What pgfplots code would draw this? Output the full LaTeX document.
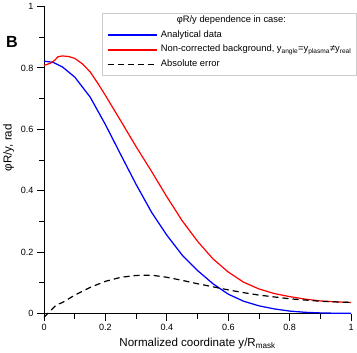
\documentclass[border=0pt]{standalone}
\usepackage{pgfplots}
\pgfplotsset{compat=1.18}
\usepackage{fontspec}
\setmainfont{Liberation Sans}
\begin{document}
\begin{tikzpicture}
\begin{axis}[
  width=305pt, height=305pt, scale only axis,
  xmin=0, xmax=1, ymin=0, ymax=1,
  clip=false,
  axis x line=bottom, axis y line=left,
  axis line style={-, line width=0.9pt},
  tick align=outside,
  xtick={0,0.2,0.4,0.6,0.8,1}, ytick={0,0.2,0.4,0.6,0.8,1},
  xticklabels={0,0.2,0.4,0.6,0.8,1}, yticklabels={0,0.2,0.4,0.6,0.8,1},
  minor x tick num=1, minor y tick num=1,
  major tick length=7pt, minor tick length=5pt,
  tick style={black, line width=0.9pt},
  ticklabel style={font=\fontsize{9}{10}\selectfont},
  /pgf/number format/assume math mode=true,
  xlabel={Normalized coordinate y/R\textsubscript{mask}},
  ylabel={φR/y, rad},
  label style={font=\fontsize{11.5}{13}\selectfont},
  xlabel style={at={(axis description cs:0.5,-0.097)}, anchor=center},
  ylabel style={at={(axis description cs:-0.115,0.54)}, anchor=center},
]
\addplot[blue, line width=1.25pt] coordinates {
(0,0.822) (0.03,0.818) (0.06,0.803) (0.1,0.77) (0.15,0.705) (0.2,0.615)
(0.25,0.517) (0.3,0.42) (0.35,0.33) (0.4,0.255) (0.45,0.19) (0.5,0.14)
(0.55,0.097) (0.6,0.063) (0.65,0.04) (0.7,0.025) (0.75,0.015) (0.8,0.008)
(0.85,0.004) (0.9,0.002) (0.95,0.001) (1,0.0005)};

\addplot[red, line width=1.2pt] coordinates {
(0,0.808) (0.02,0.815) (0.035,0.825) (0.045,0.836) (0.06,0.839) (0.08,0.837)
(0.1,0.831) (0.125,0.813) (0.15,0.787) (0.175,0.75) (0.2,0.71) (0.25,0.627)
(0.3,0.543) (0.35,0.463) (0.4,0.38) (0.45,0.302) (0.5,0.235) (0.55,0.178)
(0.6,0.135) (0.65,0.102) (0.7,0.08) (0.75,0.065) (0.8,0.055) (0.85,0.047)
(0.9,0.041) (0.95,0.038) (1,0.036)};

\addplot[black, line width=1.2pt, dash pattern=on 6pt off 4pt] coordinates {
(0,-0.012) (0.04,0.028) (0.06,0.036) (0.1,0.06) (0.15,0.085) (0.2,0.105)
(0.25,0.118) (0.3,0.124) (0.33,0.125) (0.35,0.125) (0.4,0.118) (0.45,0.108)
(0.5,0.097) (0.55,0.087) (0.6,0.077) (0.65,0.068) (0.7,0.06) (0.75,0.054)
(0.8,0.048) (0.85,0.044) (0.9,0.04) (0.95,0.038) (1,0.036)};

% legend box
\draw[black!20, fill=white, line width=0.8pt] (rel axis cs:0.190,0.977) rectangle (rel axis cs:1.016,0.774);
\node[font=\fontsize{9.3}{10}\selectfont] at (rel axis cs:0.61,0.955) {φR/y dependence in case:};
\draw[blue, line width=1.3pt] (rel axis cs:0.207,0.907) -- (rel axis cs:0.367,0.907);
\node[anchor=west, font=\fontsize{9.3}{10}\selectfont, inner sep=0pt] at (rel axis cs:0.38,0.907) {\vphantom{Ny}Analytical data};
\draw[red, line width=1.3pt] (rel axis cs:0.207,0.8585) -- (rel axis cs:0.367,0.8585);
\node[anchor=west, font=\fontsize{9.3}{10}\selectfont, inner sep=0pt] at (rel axis cs:0.38,0.8585) {\vphantom{Ny}Non-corrected background, y\textsubscript{angle}=y\textsubscript{plasma}≠y\textsubscript{real}};
\draw[black, line width=1.3pt, dash pattern=on 6pt off 4pt] (rel axis cs:0.207,0.811) -- (rel axis cs:0.367,0.811);
\node[anchor=west, font=\fontsize{9.3}{10}\selectfont, inner sep=0pt] at (rel axis cs:0.38,0.811) {\vphantom{Ny}Absolute error};

\node[font=\fontsize{16}{18}\selectfont\bfseries] at (rel axis cs:-0.105,0.885) {B};
\end{axis}
\end{tikzpicture}
\end{document}
